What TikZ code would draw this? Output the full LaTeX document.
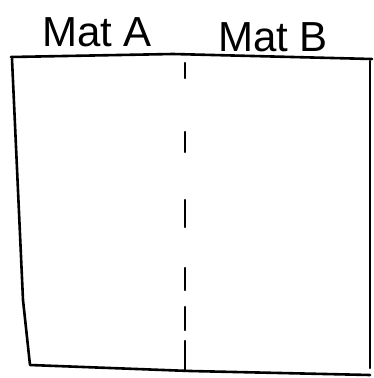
\documentclass[tikz,border=0pt]{standalone}
\usepackage{fontspec}
\setmainfont{Liberation Sans}
\usetikzlibrary{positioning,calc}

\begin{document}
\begin{tikzpicture}[
  x=1pt,y=-1pt,
  edge/.style={line width=2.6pt,line cap=round,line join=round},
  divider/.style={line width=2.2pt,line cap=round},
  matlabel/.style={font=\fontsize{42}{42}\selectfont,inner sep=0pt}
]
\useasboundingbox (0,0) rectangle (374,378);
% corners of the board
\coordinate (tl) at (11,57);
\coordinate (tm) at (173,54);
\coordinate (tr) at (372,59);
\coordinate (bl) at (30,365);
\coordinate (bm) at (190,371);
\coordinate (br) at (370,375);
\node[matlabel] (matA) at (97,32) {Mat A};
\node[matlabel] (matB) at (273,37) {Mat B};
% outline
\draw[edge] (tl) -- (tm) -- (tr);
\draw[edge] (tl) ++(1,2) -- (23,300) -- (bl) -- (bm) -- (br);
\draw[edge] (370,61) -- (370,368);
% middle split
\foreach \a/\b in {63/78,132/152,200/227,268/290,307/330,341/371}
  \draw[divider] (185,\a) -- (185,\b);
\end{tikzpicture}
\end{document}
